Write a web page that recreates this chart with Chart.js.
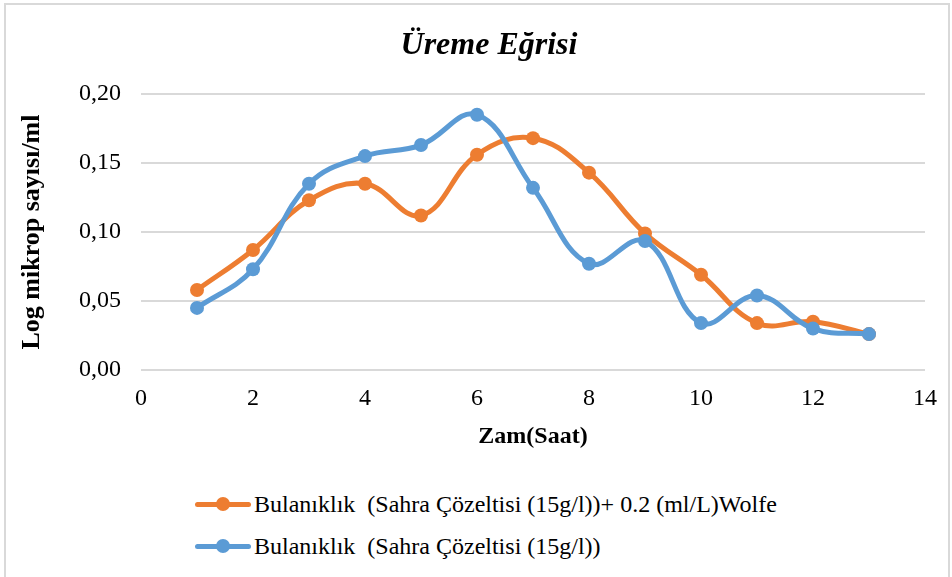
<!DOCTYPE html>
<html>
<head>
<meta charset="utf-8">
<script src="https://cdn.jsdelivr.net/npm/chart.js@4"></script>
<style>
  body { margin: 0; background: #fff; font-family: 'Liberation Serif', 'Times New Roman', serif; }
  #frame { position: absolute; left: 4px; top: 3px; width: 942px; height: 600px; border: 2px solid #d9d9d9; }
  #chart { position: absolute; left: 0; top: 0; }
  #title { position: absolute; left: 0; width: 978px; top: 27px; text-align: center;
           font-family: 'Liberation Serif', serif; font-style: italic; font-weight: bold;
           font-size: 32px; line-height: 32px; color: #000; }
  #legend { position: absolute; left: 195px; top: 483px; }
  .row { display: flex; align-items: center; height: 42px; }
  .key { position: relative; width: 56px; height: 42px; flex: none; }
  .key .ln { position: absolute; left: 0; top: 18.5px; width: 56px; height: 5px; border-radius: 2.5px; }
  .key .dot { position: absolute; left: 21px; top: 14px; width: 14px; height: 14px; border-radius: 50%; }
  .txt { margin-left: 3px; font-size: 24px; color: #000; white-space: pre; }
</style>
</head>
<body>
<div id="frame"></div>
<canvas id="chart" width="952" height="460"></canvas>
<div id="title">Üreme Eğrisi</div>
<div id="legend"></div>

<script>
/* ─── data ─── */
const hours = [1, 2, 3, 4, 5, 6, 7, 8, 9, 10, 11, 12, 13];
const wolfeSeries = [0.058, 0.087, 0.123, 0.135, 0.112, 0.156, 0.168, 0.143, 0.099, 0.069, 0.034, 0.035, 0.026];
const sahraSeries = [0.045, 0.073, 0.135, 0.155, 0.163, 0.185, 0.132, 0.077, 0.0935, 0.034, 0.054, 0.030, 0.026];
const seriesNames = [
  'Bulanıklık  (Sahra Çözeltisi (15g/l))+ 0.2 (ml/L)Wolfe',
  'Bulanıklık  (Sahra Çözeltisi (15g/l))'
];
const seriesColors = ['#ED7D31', '#5B9BD5'];
const xTicks = [0, 2, 4, 6, 8, 10, 12, 14];
const yTicks = [0, 0.05, 0.10, 0.15, 0.20];

const FONT = 'Liberation Serif';
const GRID = '#d9d9d9';

function toPoints(ys) {
  return hours.map((h, i) => ({ x: h, y: ys[i] }));
}

function lineSet(label, ys, color, order) {
  return {
    label, data: toPoints(ys), order,
    borderColor: color, backgroundColor: color,
    borderWidth: 5, tension: 0.4,
    pointRadius: 7, pointBorderWidth: 0, pointBackgroundColor: color,
    borderCapStyle: 'round', borderJoinStyle: 'round'
  };
}

function drawChart() {
  const ctx = document.getElementById('chart');
  new Chart(ctx, {
    type: 'line',
    data: {
      datasets: [
        lineSet(seriesNames[0], wolfeSeries, seriesColors[0], 1),
        lineSet(seriesNames[1], sahraSeries, seriesColors[1], 0)
      ]
    },
    options: {
      responsive: false, animation: false,
      layout: { padding: { top: 94, right: 27, left: 0, bottom: 0 } },
      plugins: { legend: { display: false }, title: { display: false }, tooltip: { enabled: false } },
      scales: {
        x: {
          type: 'linear', min: 0, max: 14,
          afterBuildTicks: s => { s.ticks = xTicks.map(v => ({ value: v })); },
          afterFit: s => { s.height = 90; },
          grid: { display: false, drawTicks: false },
          border: { display: false },
          ticks: { color: '#000', padding: 14, font: { family: FONT, size: 24 } },
          title: { display: true, text: 'Zam(Saat)', color: '#000',
                   font: { family: FONT, size: 24, weight: 'bold' }, padding: { top: 0, bottom: 9 } }
        },
        y: {
          min: 0, max: 0.2,
          afterBuildTicks: s => { s.ticks = yTicks.map(v => ({ value: v })); },
          afterFit: s => { s.width = 141; },
          grid: { color: GRID, lineWidth: 2, drawTicks: false },
          border: { display: false },
          ticks: { color: '#000', padding: 20, font: { family: FONT, size: 24 },
                   callback: v => v.toFixed(2).replace('.', ',') },
          title: { display: true, text: 'Log mikrop sayısı/ml', color: '#000',
                   font: { family: FONT, size: 26, weight: 'bold' }, padding: { top: 17, bottom: 0 } }
        }
      }
    }
  });
}

/* ─── legend (one entry per row, like the original) ─── */
const legend = document.getElementById('legend');
seriesNames.forEach((name, i) => {
  const row = document.createElement('div');
  row.className = 'row';
  row.innerHTML = '<span class="key"><span class="ln" style="background:' + seriesColors[i] +
    '"></span><span class="dot" style="background:' + seriesColors[i] + '"></span></span>' +
    '<span class="txt"></span>';
  row.querySelector('.txt').textContent = name;
  legend.appendChild(row);
});

Promise.all([
  document.fonts.load('24px "Liberation Serif"'),
  document.fonts.load('bold 24px "Liberation Serif"')
]).then(drawChart, drawChart);
</script>
</body>
</html>
